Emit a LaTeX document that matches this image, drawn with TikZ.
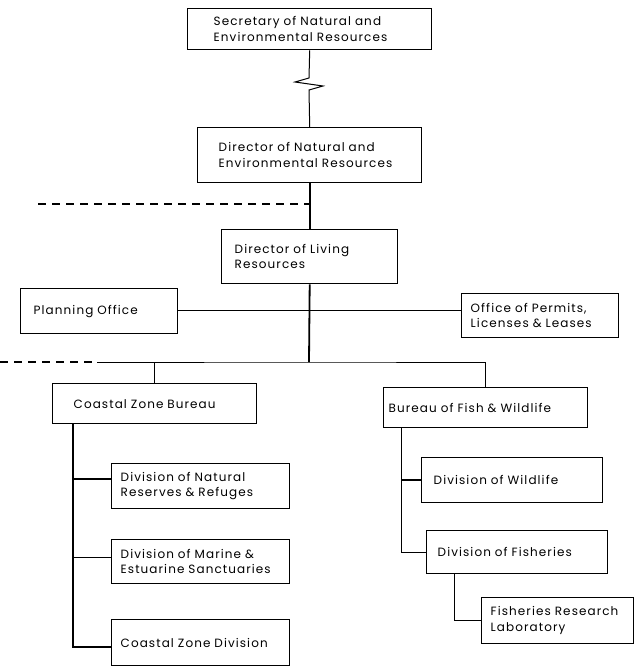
\documentclass[tikz,border=0pt]{standalone}
\usepackage{fontspec}
\setmainfont{Poppins}[LetterSpace=9,WordSpace=2.3]
\begin{document}
\begin{tikzpicture}[x=1pt,y=-1pt,
  box/.style={draw, line width=1.4pt, anchor=north west, align=left, inner ysep=0pt,
    font=\fontsize{12}{15.5}\selectfont},
  conn/.style={line width=1pt},
  spine/.style={line width=1.8pt},
  dashline/.style={line width=1.8pt, dash pattern=on 8pt off 6pt}]
\useasboundingbox (0,0) rectangle (635,666);
\fill[white] (0,0) rectangle (635,666);

\node[box, text width=192pt, inner xsep=26pt, minimum height=41pt] (sec) at (187,8) {Secretary of Natural and\\Environmental Resources};
\node[box, text width=182pt, inner xsep=21pt, minimum height=55pt] (dnr) at (197,127) {Director of Natural and\\Environmental Resources};
\node[box, text width=150pt, inner xsep=13pt, minimum height=54pt] (dlr) at (221,229) {Director of Living\\Resources};
\node[box, text width=131pt, inner xsep=13pt, minimum height=45pt] (plan) at (20,288) {Planning Office};
\node[box, text width=139pt, inner xsep=9pt, minimum height=44pt] (perm) at (461,293) {Office of Permits,\\Licenses \& Leases};
\node[box, text width=162pt, inner xsep=21pt, minimum height=40pt] (czb) at (52,383) {Coastal Zone Bureau};
\node[box, text width=194pt, inner xsep=5pt, minimum height=40pt] (bfw) at (383,387) {Bureau of Fish \& Wildlife};
\node[box, text width=160pt, inner xsep=9pt, minimum height=45pt] (dnrr) at (111,463) {Division of Natural\\Reserves \& Refuges};
\node[box, text width=160pt, inner xsep=9pt, minimum height=44pt] (dmes) at (111,539) {Division of Marine \&\\Estuarine Sanctuaries};
\node[box, text width=160pt, inner xsep=9pt, minimum height=46pt] (czd) at (111,619) {Coastal Zone Division};
\node[box, text width=157pt, inner xsep=12pt, minimum height=45pt] (dw) at (421,457) {Division of Wildlife};
\node[box, text width=159pt, inner xsep=11pt, minimum height=43pt] (df) at (426,530) {Division of Fisheries};
\node[box, text width=134pt, inner xsep=9pt, minimum height=46pt] (frl) at (481,597) {Fisheries Research\\Laboratory};

% secretary to director with break
\coordinate (z1) at (309,78);
\coordinate (z2) at (295,82);
\coordinate (z3) at (323,86);
\coordinate (z4) at (309,90);
\draw[conn] (sec.south) -- (z1) -- (z2) -- (z3) -- (z4) -- (dnr.north);

% director to living resources
\draw[spine] (dnr.south) -- (dlr.north);
\coordinate (d1) at (38,204);
\draw[dashline] (d1) -- (d1 -| dlr.north);

% staff offices
\draw[conn] (plan.east |- 0,310) -- (perm.west |- 0,310);

% down to bureaus
\coordinate (j) at (309,362);
\coordinate (dend) at (97,362);
\coordinate (dstart) at (0,362);
\draw[spine] (dlr.south) -- (j);
\draw[dashline] (dstart) -- (dend);
\draw[conn] (dend) -- (j) -| (bfw.north);
\draw[conn] (czb.north) -- (czb.north |- j);

% coastal zone bureau divisions
\coordinate (ct) at (73,423);
\draw[spine] (ct) |- ([yshift=-4pt]czd.west);
\draw[spine] (ct |- 0,479) -- (dnrr.west |- 0,479);
\draw[conn] (ct |- 0,557) -- (dmes.west |- 0,557);

% fish & wildlife divisions
\coordinate (bt) at (401,427);
\draw[conn] (bt) |- (df.west);
\draw[spine] (bt |- dw.west) -- (dw.west);
\draw[conn] ([xshift=28pt]df.south west) |- (frl.west);
\end{tikzpicture}
\end{document}
